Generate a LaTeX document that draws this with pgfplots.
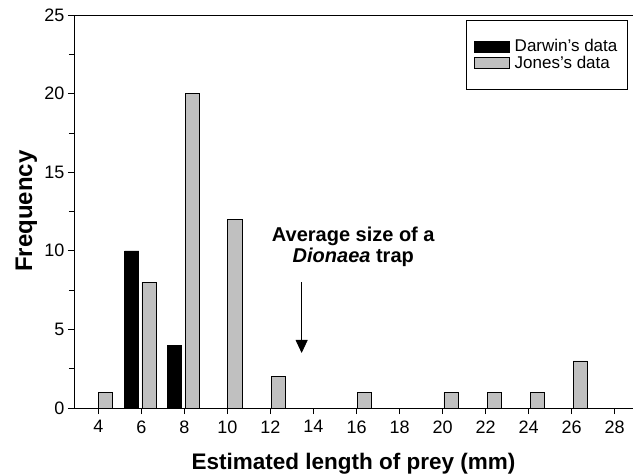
\documentclass[border=0pt]{standalone}
\usepackage{fontspec}
\setmainfont{Liberation Sans}
\usepackage{pgfplots}
\pgfplotsset{compat=1.18}
\usetikzlibrary{arrows.meta}
\definecolor{bargrey}{RGB}{192,192,192}
\begin{document}
\begin{tikzpicture}
\begin{axis}[
  at={(0pt,0pt)}, anchor=south west,
  scale only axis, width=559pt, height=393pt,
  xmin=2.87, xmax=28.85, ymin=0, ymax=25,
  axis lines=left, axis line style={-, line width=0.8pt, black},
  xtick={4,6,...,28}, ytick={0,5,...,25}, minor y tick num=1,
  tick align=outside, major tick length=6pt, minor tick length=5pt,
  tick style={line width=0.8pt, black},
  /pgf/number format/assume math mode=true,
  tick label style={font=\fontsize{18}{18}\selectfont},
  xticklabel style={yshift=-3pt},
  xlabel={Estimated length of prey (mm)}, ylabel={Frequency},
  label style={font=\bfseries\fontsize{22.5}{22.5}\selectfont},
  xlabel style={at={(axis description cs:0.5,0)}, anchor=base, yshift=-61pt},
  ylabel style={at={(axis description cs:-0.0751,0.501)}, anchor=base, font=\bfseries\fontsize{24}{24}\selectfont},
  legend style={at={(axis description cs:0.990,0.986)}, anchor=north east,
    draw=black, line width=0.6pt, font=\fontsize{17}{17}\selectfont,
    outer sep=0pt, inner xsep=8pt, inner ysep=17pt, row sep=-1pt},
  legend cell align=left,
  clip=false,
]
\addplot[ybar, bar width=0.66, bar shift=0pt, fill=black, draw=black, line width=0.6pt,
  legend image code/.code={\draw[fill=black,draw=black] (0pt,-5.5pt) rectangle (35pt,5.5pt); \path (38pt,0pt);}]
  coordinates {(5.55,10) (7.55,4)};
\addlegendentry{Darwin's data}
\addplot[ybar, bar width=0.66, bar shift=0pt, fill=bargrey, draw=black, line width=0.6pt,
  legend image code/.code={\draw[fill=bargrey,draw=black,line width=0.6pt] (0pt,-5.5pt) rectangle (35pt,5.5pt); \path (38pt,0pt);}]
  coordinates {(4.33,1) (6.36,8) (8.36,20) (10.34,12) (12.36,2) (16.37,1) (20.39,1) (22.4,1) (24.4,1) (26.4,3)};
\addlegendentry{Jones's data}
\draw[line width=0.8pt] (rel axis cs:0,1) -- (rel axis cs:1,1);
\draw[line width=0.8pt, -{Triangle[width=12pt,length=13pt]}] (axis cs:13.45,8.0) -- (axis cs:13.45,3.5);
\node[align=center, inner sep=0pt, font=\bfseries\fontsize{20}{21}\selectfont] at (axis cs:15.85,10.25)
  {Average size of a\\ \textit{Dionaea} trap};
\end{axis}
\pgfresetboundingbox
\useasboundingbox (-74pt,-67pt) rectangle (559pt,408pt);
\end{tikzpicture}
\end{document}
